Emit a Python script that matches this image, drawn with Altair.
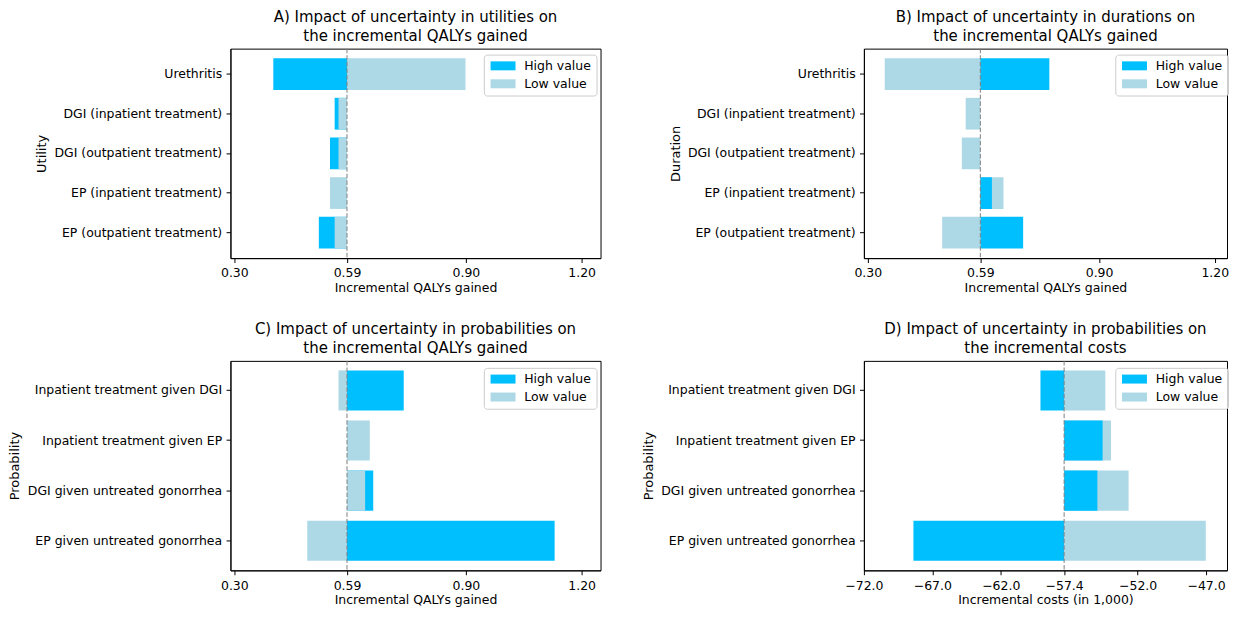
import altair as alt
import pandas as pd

HIGH_COLOR = "#00BFFF"
LOW_COLOR = "#ADD8E6"
KINDS = ["High value", "Low value"]

# ---- Panel A: utilities -> incremental QALYs
util_cats = ["Urethritis", "DGI (inpatient treatment)", "DGI (outpatient treatment)",
             "EP (inpatient treatment)", "EP (outpatient treatment)"]
util_high = [0.401, 0.560, 0.548, 0.592, 0.519]
util_low = [0.899, 0.570, 0.570, 0.548, 0.560]
util_base = 0.592

# ---- Panel B: durations -> incremental QALYs
dur_cats = ["Urethritis", "DGI (inpatient treatment)", "DGI (outpatient treatment)",
            "EP (inpatient treatment)", "EP (outpatient treatment)"]
dur_high = [0.771, 0.592, 0.592, 0.622, 0.703]
dur_low = [0.344, 0.554, 0.544, 0.652, 0.493]
dur_base = 0.592

# ---- Panel C: probabilities -> incremental QALYs
prob_cats = ["Inpatient treatment given DGI", "Inpatient treatment given EP",
             "DGI given untreated gonorrhea", "EP given untreated gonorrhea"]
probq_high = [0.739, 0.592, 0.660, 1.130]
probq_low = [0.570, 0.651, 0.639, 0.489]
probq_base = 0.592

# ---- Panel D: probabilities -> incremental costs (in 1,000)
probc_high = [-59.10, -54.56, -54.94, -68.38]
probc_low = [-54.36, -53.95, -52.66, -47.02]
probc_base = -57.37

qaly_ticks = [0.30, 0.592, 0.90, 1.20]
cost_ticks = [-72.0, -67.0, -62.0, -57.37, -52.0, -47.0]

LEGEND_PATH = "M-2.78,-1L2.78,-1L2.78,1L-2.78,1Z"


def tornado_df(cats, high, low, base):
    rows = []
    for c, h, l in zip(cats, high, low):
        for kind, v in ((KINDS[0], h), (KINDS[1], l)):
            rows.append(dict(cat=c, kind=kind, start=base, end=v, z=-abs(v - base)))
    df = pd.DataFrame(rows)
    return df.sort_values("z", kind="stable").reset_index(drop=True)


def panel(cats, high, low, base, title, ytitle, xtitle, domain, ticks, fmt,
          width, height, pad_outer, extent, legend_x, legend_y):
    df = tornado_df(cats, high, low, base)
    xaxis = alt.Axis(values=ticks, format=fmt, title=xtitle, grid=False,
                     labelFlush=False, labelOverlap=False, titlePadding=2)
    xscale = alt.Scale(domain=domain, nice=False, zero=False)
    bars = alt.Chart(df).mark_bar().encode(
        y=alt.Y("cat:N", sort=cats,
                scale=alt.Scale(paddingInner=0.2, paddingOuter=pad_outer),
                axis=alt.Axis(title=ytitle, minExtent=extent, maxExtent=extent,
                              titlePadding=5, labelLimit=0, titleFontSize=13)),
        x=alt.X("start:Q", scale=xscale, axis=xaxis),
        x2="end:Q",
        color=alt.Color("kind:N",
                        scale=alt.Scale(domain=KINDS, range=[HIGH_COLOR, LOW_COLOR]),
                        legend=alt.Legend(orient="none", legendX=legend_x, legendY=legend_y,
                                          title=None, symbolType=LEGEND_PATH, symbolSize=81,
                                          symbolOffset=8, labelOffset=15, labelFontSize=12.5,
                                          labelColor="black", padding=5, rowPadding=5,
                                          strokeColor="#cccccc",
                                          fillColor="rgba(255,255,255,0.8)",
                                          cornerRadius=3, symbolStrokeWidth=0)),
        order=alt.Order("z:Q"),
    )
    rule = alt.Chart(pd.DataFrame({"start": [base]})).mark_rule(
        color="gray", strokeDash=[4.6, 2], strokeWidth=1
    ).encode(x=alt.X("start:Q", scale=xscale, axis=xaxis))
    return alt.layer(bars, rule).properties(
        width=width, height=height,
        title=alt.TitleParams(title, fontSize=15, fontWeight="normal", anchor="middle",
                              offset=4, lineHeight=19, color="black"),
    )


qdom = [0.29, 1.249]
A = panel(util_cats, util_high, util_low, util_base,
          ["A) Impact of uncertainty in utilities on", "the incremental QALYs gained"],
          "Utility", "Incremental QALYs gained", qdom, qaly_ticks, ".2f",
          371, 210, 0.24, 177, 254, 6)
B = panel(dur_cats, dur_high, dur_low, dur_base,
          ["B) Impact of uncertainty in durations on", "the incremental QALYs gained"],
          "Duration", "Incremental QALYs gained", [0.29, 1.2318], qaly_ticks, ".2f",
          364, 210, 0.24, 177, 252, 6)
C = panel(prob_cats, probq_high, probq_low, probq_base,
          ["C) Impact of uncertainty in probabilities on", "the incremental QALYs gained"],
          "Probability", "Incremental QALYs gained", qdom, qaly_ticks, ".2f",
          371, 210, 0.19, 204, 254, 7)
D = panel(prob_cats, probc_high, probc_low, probc_base,
          ["D) Impact of uncertainty in probabilities on", "the incremental costs"],
          "Probability", "Incremental costs (in 1,000)", [-72.0, -45.47], cost_ticks, ".1f",
          364, 210, 0.19, 204, 252, 7)

chart = alt.concat(A, B, C, D, columns=2, spacing={"row": 103, "column": 264},
                   bounds="flush").resolve_legend(color="independent").properties(
    padding={"left": 0, "top": 1, "right": 0, "bottom": 0}
).configure(font="DejaVu Sans").configure_view(
    stroke="black", strokeWidth=1
).configure_axis(
    labelFontSize=12.5, titleFontSize=12.5, titleFontWeight="normal",
    labelColor="black", titleColor="black", domainColor="black", tickColor="black",
    tickSize=4.4, labelPadding=4.4, domainWidth=1, tickWidth=1, grid=False,
    labelFont="DejaVu Sans", titleFont="DejaVu Sans"
).configure_legend(labelFont="DejaVu Sans")

chart.save("out.html", embed_options={"renderer": "svg", "actions": False})
